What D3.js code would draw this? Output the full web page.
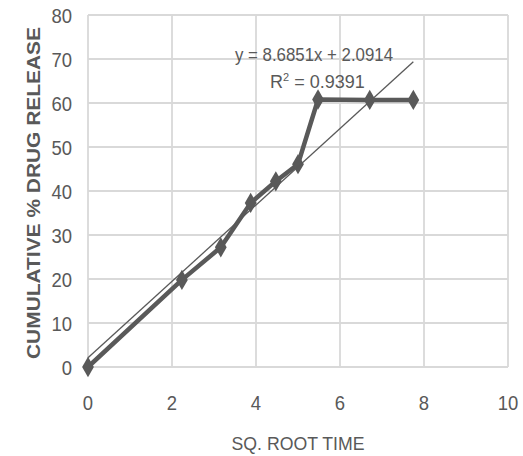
<!DOCTYPE html>
<html>
<script src="https://d3js.org/d3.v7.min.js"></script>
<style>
    body {margin: 0; background: #fff;}
    text {font-family: "Liberation Sans", Arial, sans-serif; fill: #595959;}
</style>
<body>
<div id="chart"></div>
<script>
    // sq. root time vs cumulative % release
    var sqrtTime = [0, 2.236, 3.162, 3.873, 4.472, 5, 5.477, 6.708, 7.746];
    var release = [0, 19.8, 27.2, 37.3, 42.2, 46.1, 60.8, 60.7, 60.7];
    var xTicks = [0, 2, 4, 6, 8, 10];
    var yTicks = [0, 10, 20, 30, 40, 50, 60, 70, 80];
    var slope = 8.6851, intercept = 2.0914, r2 = 0.9391;

    var W = 523, H = 456;
    var margin = {top: 15, right: 15, bottom: 89, left: 88};

    var svg = d3.select("#chart").append("svg")
        .attr("width", W)
        .attr("height", H);

    var x = d3.scaleLinear().domain([0, 10]).range([margin.left, W - margin.right]);
    var y = d3.scaleLinear().domain([0, 80]).range([H - margin.bottom, margin.top]);

    // grid
    svg.append("g").selectAll("line").data(yTicks).enter().append("line")
        .attr("x1", x(0)).attr("x2", x(10))
        .attr("y1", d => y(d)).attr("y2", d => y(d))
        .attr("stroke", "#d9d9d9").attr("stroke-width", 1.8);
    svg.append("g").selectAll("line").data(xTicks).enter().append("line")
        .attr("y1", y(0)).attr("y2", y(80))
        .attr("x1", d => x(d)).attr("x2", d => x(d))
        .attr("stroke", "#d9d9d9").attr("stroke-width", 1.8);

    // tick labels (squeezed a bit, the original font is narrow)
    svg.append("g").selectAll("text").data(yTicks).enter().append("text")
        .attr("transform", d => "translate(" + (x(0) - 16) + "," + y(d) + ") scale(0.88,1)")
        .attr("dy", "0.36em")
        .attr("text-anchor", "end")
        .style("font-size", "21px")
        .text(d => d);
    svg.append("g").selectAll("text").data(xTicks).enter().append("text")
        .attr("transform", d => "translate(" + x(d) + "," + (y(0) + 43) + ") scale(0.88,1)")
        .attr("text-anchor", "middle")
        .style("font-size", "21px")
        .text(d => d);

    // axis titles
    svg.append("text")
        .attr("transform", "translate(40,193) rotate(-90)")
        .attr("text-anchor", "middle")
        .attr("textLength", 332)
        .attr("lengthAdjust", "spacingAndGlyphs")
        .style("font-size", "18px")
        .style("font-weight", "bold")
        .text("CUMULATIVE % DRUG RELEASE");
    svg.append("text")
        .attr("x", 298).attr("y", 450)
        .attr("text-anchor", "middle")
        .attr("textLength", 133)
        .attr("lengthAdjust", "spacingAndGlyphs")
        .style("font-size", "19px")
        .text("SQ. ROOT TIME");

    // data series
    var pts = sqrtTime.map((d, i) => [d, release[i]]);
    svg.append("path")
        .datum(pts)
        .attr("fill", "none")
        .attr("stroke", "#595959")
        .attr("stroke-width", 4.5)
        .attr("stroke-linejoin", "round")
        .attr("d", d3.line().x(d => x(d[0])).y(d => y(d[1])));
    svg.append("g").selectAll("path").data(pts).enter().append("path")
        .attr("d", d3.symbol().type(d3.symbolDiamond).size(120))
        .attr("transform", d => "translate(" + x(d[0]) + "," + y(d[1]) + ")")
        .attr("fill", "#595959");

    // linear trendline
    var xMax = d3.max(sqrtTime);
    svg.append("line")
        .attr("x1", x(0)).attr("y1", y(intercept))
        .attr("x2", x(xMax)).attr("y2", y(slope * xMax + intercept))
        .attr("stroke", "#595959")
        .attr("stroke-width", 1.3);

    svg.append("text")
        .attr("x", 235).attr("y", 61)
        .attr("textLength", 158)
        .attr("lengthAdjust", "spacingAndGlyphs")
        .style("font-size", "18px")
        .text("y = " + slope + "x + " + intercept);
    var r = svg.append("text")
        .attr("x", 270).attr("y", 88)
        .style("font-size", "18px");
    r.append("tspan").text("R");
    r.append("tspan").attr("dy", -7).style("font-size", "11px").text("2");
    r.append("tspan").attr("dy", 7).text(" = " + r2);
</script>
</body>
</html>
